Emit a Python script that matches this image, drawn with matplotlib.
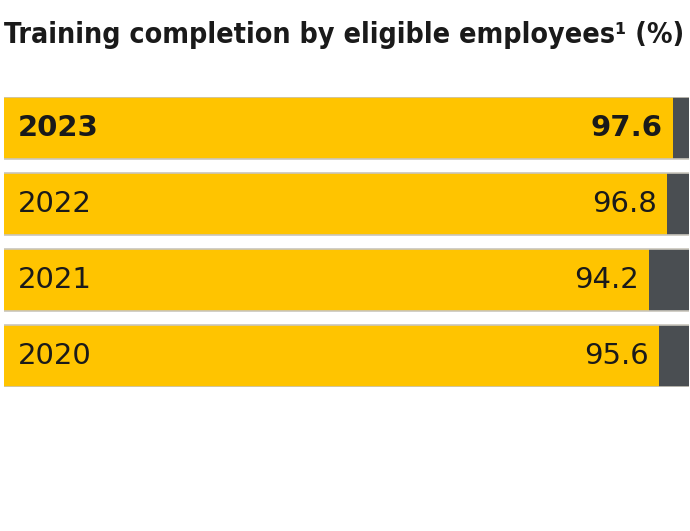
import matplotlib.pyplot as plt
import numpy as np

# data
years = ['2023', '2022', '2021', '2020']
completion = [97.6, 96.8, 94.2, 95.6]
highlight = [True, False, False, False]

yellow = '#FFC400'
grey = '#4A4E52'
edge = '#C9C6BC'
txt = '#1A1A1A'

fig = plt.figure(figsize=(6.9, 5.31), dpi=100)
fig.patch.set_facecolor('white')

# axes placed to match the bar block (px 4..689 wide, 97..387 tall)
ax = fig.add_axes([4 / 690, 1 - 387 / 531, 685 / 690, 290 / 531])
h = 62 / 76
pos = np.arange(len(years))

ax.barh(pos, completion, height=h, color=yellow, linewidth=0)
rest = [100 - v for v in completion]
ax.barh(pos, rest, left=completion, height=h, color=grey, linewidth=0)
ax.hlines(pos - h / 2, 0, 100, color=edge, linewidth=1.2)
ax.hlines(pos + h / 2, 0, 100, color=edge, linewidth=1.2)

for i, (yr, v, hl) in enumerate(zip(years, completion, highlight)):
    w = 'bold' if hl else 'normal'
    ax.text(2.0, i, yr, ha='left', va='center', fontsize=21,
            fontweight=w, color=txt, family='DejaVu Sans')
    ax.text(v - 1.5, i, f'{v:.1f}', ha='right', va='center', fontsize=21,
            fontweight=w, color=txt, family='DejaVu Sans')

ax.set_xlim(0, 100)
ax.set_ylim(len(years) - 1 + h / 2, -h / 2)
ax.axis('off')

title = fig.text(4 / 690, 1 - 35 / 531,
                 'Training completion by eligible employees\u00b9 (%)',
                 ha='left', va='center', fontsize=25, fontweight='bold',
                 color=txt, family='DejaVu Sans', fontstretch='condensed')

# shrink title until it fits the width of the bars
r = fig.canvas.get_renderer()
fs = 25
while title.get_window_extent(r).width > 682 and fs > 8:
    fs -= 0.25
    title.set_fontsize(fs)

fig.savefig('out.png', dpi=100, facecolor='white')
